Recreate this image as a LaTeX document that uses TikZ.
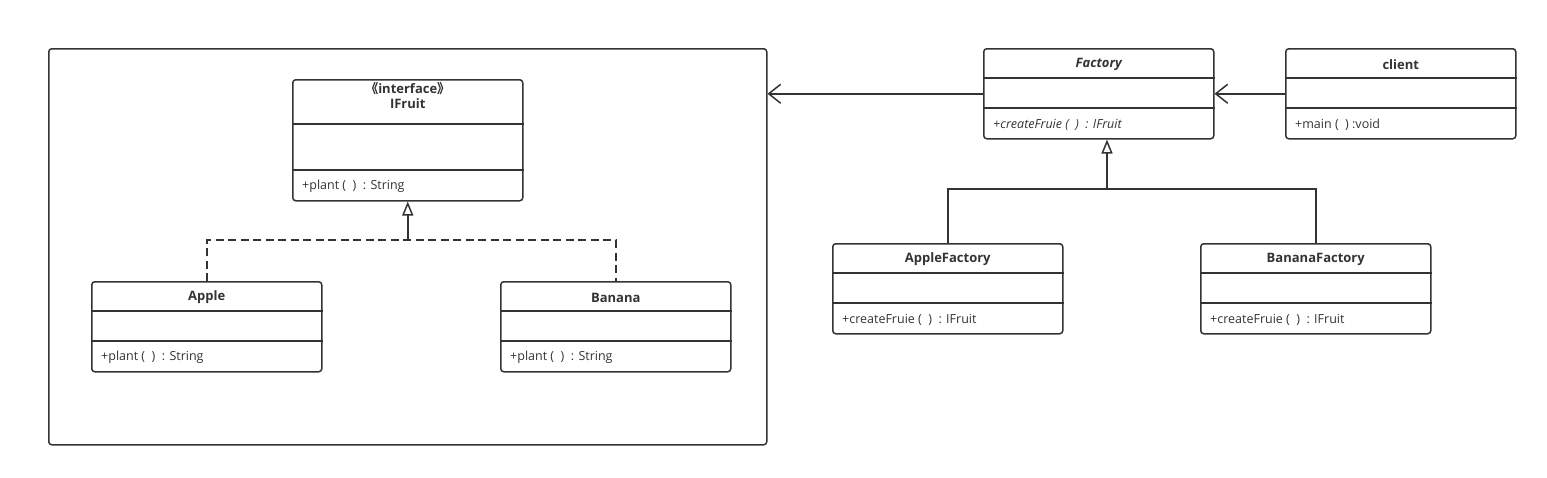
\documentclass[tikz,border=0pt]{standalone}
\usepackage{fontspec}
\setmainfont{Open Sans}
\newfontfamily\cjk{Noto Sans CJK SC}
\usetikzlibrary{arrows.meta}
\usetikzlibrary{positioning}
\definecolor{umlgray}{RGB}{51,51,51}

% one class box: name, top left, title height, middle height, title, operation
\newcommand{\umlclass}[6]{%
  \node[class_box, minimum height=#3+#4+30, anchor=north west] (#1) at (#2) {};
  \draw[class_line] ([yshift=-#3]#1.north west) -- ([yshift=-#3]#1.north east);
  \draw[class_line] ([yshift=-#3-#4]#1.north west) -- ([yshift=-#3-#4]#1.north east);
  \node[class_title] (#1_title) at ([yshift=-16.5]#1.north) {#5};
  \node[class_op, anchor=west] (#1_op) at ([xshift=10,yshift=15]#1.south west) {#6};
}

\begin{document}
\begin{tikzpicture}[x=1pt,y=-1pt]
        \tikzset{class_box/.style = {draw=umlgray,line width=1.5pt,rounded corners=3pt,minimum width=230,inner sep=0pt}}
        \tikzset{class_line/.style = {draw=umlgray,line width=1.5pt}}
        \tikzset{class_title/.style = {font=\fontsize{13}{15}\selectfont\bfseries,text=umlgray,align=center,inner sep=0pt}}
        \tikzset{class_op/.style = {font=\fontsize{12.5}{14}\selectfont,text=umlgray,inner sep=0pt}}
        \tikzset{assoc_edge/.style = {-{Straight Barb[length=12pt,width=19pt]},line width=1.5pt,color=umlgray}}
        \tikzset{gen_edge/.style = {-{Triangle[open,length=14pt,width=11pt,fill=white]},line width=1.5pt,color=umlgray}}
        \tikzset{dash_edge/.style = {line width=1.5pt,color=umlgray,dash pattern=on 8pt off 4.5pt}}

        \useasboundingbox (0,0) rectangle (1547,477);

        % package frame round the fruits
        \node[class_box, minimum width=718, minimum height=396, anchor=north west] (fruits) at (48,48) {};

        \umlclass{ifruit}{292,79}{45}{46}{{\cjk 《}interface{\cjk 》}\\IFruit}{+plant (\ \ )\ \ : String}
        \umlclass{apple}{91,281}{30}{30}{Apple}{+plant (\ \ )\ \ : String}
        \umlclass{banana}{500,281}{30}{30}{Banana}{+plant (\ \ )\ \ : String}

        \umlclass{factory}{983,48}{30}{30}{\itshape Factory}{\itshape +createFruie (\ \ )\ \ : IFruit}
        \umlclass{client}{1285,48}{30}{30}{client}{+main (\ \ ) :void}
        \umlclass{applefac}{832,243}{30}{30}{AppleFactory}{+createFruie (\ \ )\ \ : IFruit}
        \umlclass{bananafac}{1200,243}{30}{30}{BananaFactory}{+createFruie (\ \ )\ \ : IFruit}

        % realisation of IFruit
        \coordinate (fruit_fork) at (ifruit.south |- 0,240);
        \draw[dash_edge] (apple.north) |- (fruit_fork) -| (banana.north);
        \draw[gen_edge] (fruit_fork) -- (ifruit.south);

        % factories extend Factory
        \coordinate (fac_fork) at (1107,189);
        \draw[class_line] (applefac.north) |- (fac_fork) -| (bananafac.north);
        \draw[gen_edge] (fac_fork) -- (fac_fork |- factory.south);

        % associations
        \draw[assoc_edge] (factory.west) -- (factory.west -| fruits.east);
        \draw[assoc_edge] (client.west) -- (factory.east);
    \end{tikzpicture}
\end{document}
